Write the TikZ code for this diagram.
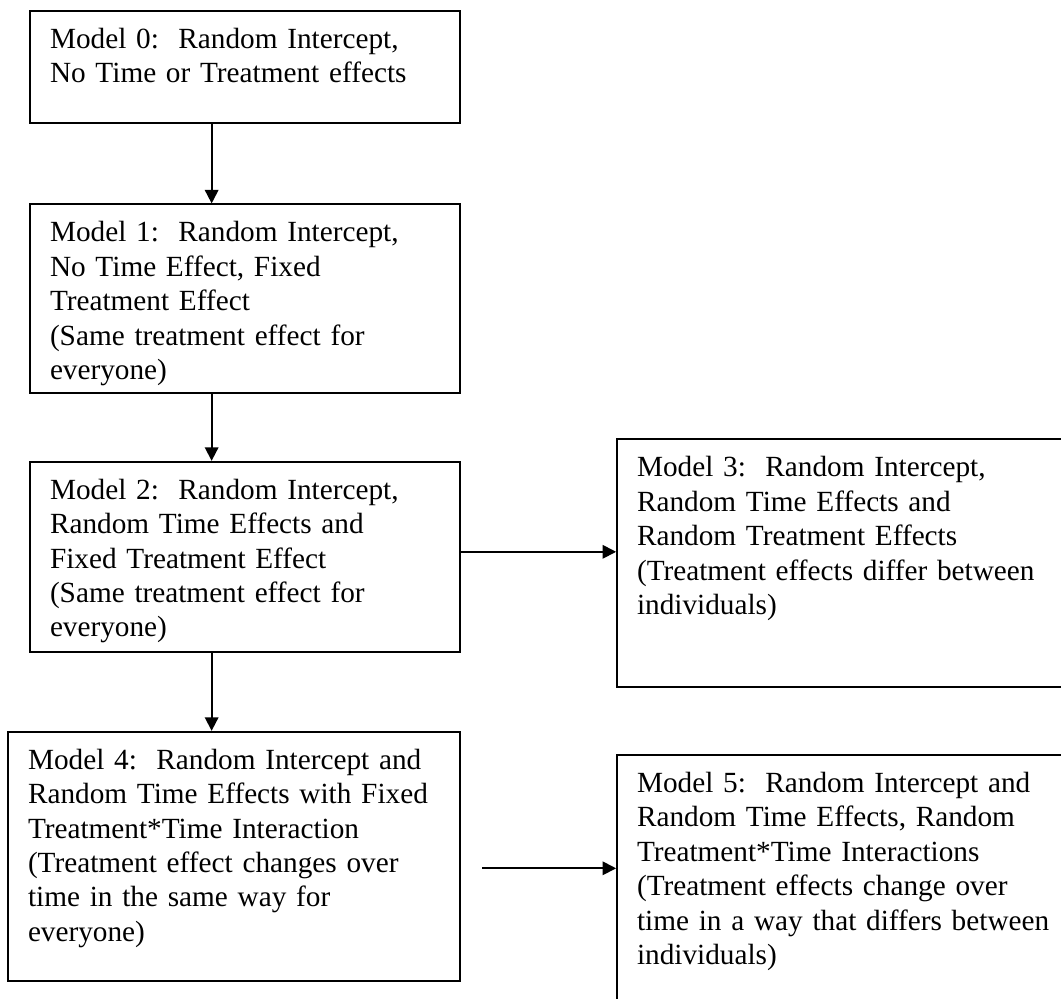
\documentclass[tikz,border=0pt]{standalone}
\usepackage{fontspec}
\setmainfont{Liberation Serif}
\usetikzlibrary{arrows.meta}
\frenchspacing

\begin{document}
\begin{tikzpicture}[auto, node distance=2cm, line width=1pt,
    >={Triangle[length=0.27cm, width=0.27cm]},
    model/.style={draw, rectangle, align=left, inner xsep=0.4cm, inner ysep=0pt,
        text height=0.75cm, font=\fontsize{16.65}{19.58}\selectfont}]

    \useasboundingbox (0,0) rectangle (21.22,-19.96);
    \clip (0,0) rectangle (21.22,-19.96);

    % Nodes
    \node [model, text width=7.8cm, text depth=1.50cm] (model_0) at (4.90,-1.34) {Model 0:\ \ Random Intercept,\\ No Time or Treatment effects};
    \node [model, below of=model_0, node distance=4.636cm, text width=7.8cm, text depth=3.03cm] (model_1) {Model 1:\ \ Random Intercept,\\ No Time Effect, Fixed\\ Treatment Effect\\ (Same treatment effect for\\ everyone)};
    \node [model, below of=model_1, node distance=5.158cm, text width=7.8cm, text depth=3.05cm] (model_2) {Model 2:\ \ Random Intercept,\\ Random Time Effects and\\ Fixed Treatment Effect\\ (Same treatment effect for\\ everyone)};
    \node [model, text width=9cm, text depth=4.21cm] (model_3) at (17.24,-11.267) {Model 3:\ \ Random Intercept,\\ Random Time Effects and\\ Random Treatment Effects\\ (Treatment effects differ between\\ individuals)};
    \node [model, text width=8.24cm, text depth=4.23cm] (model_4) at (4.68,-17.124) {Model 4:\ \ Random Intercept and\\ Random Time Effects with Fixed\\ Treatment*Time Interaction\\ (Treatment effect changes over\\ time in the same way for\\ everyone)};
    \node [model, text width=9cm, text depth=4.21cm] (model_5) at (17.24,-17.58) {Model 5:\ \ Random Intercept and\\ Random Time Effects, Random\\ Treatment*Time Interactions\\ (Treatment effects change over\\ time in a way that differs between\\ individuals)};
    \coordinate (model_4_out) at (9.64,-17.366);

    % Arrows
    \draw[->] ([xshift=-0.667cm]model_0.south) -- ([xshift=-0.667cm]model_0.south |- model_1.north);
    \draw[->] ([xshift=-0.667cm]model_1.south) -- ([xshift=-0.667cm]model_1.south |- model_2.north);
    \draw[->] ([xshift=-0.667cm]model_2.south) -- ([xshift=-0.667cm]model_2.south |- model_4.north);
    \draw[->] ([yshift=0.098cm]model_2.east) -- ([yshift=0.098cm]model_2.east -| model_3.west);
    \draw[->] (model_4_out) -- (model_4_out -| model_5.west);
\end{tikzpicture}
\end{document}
